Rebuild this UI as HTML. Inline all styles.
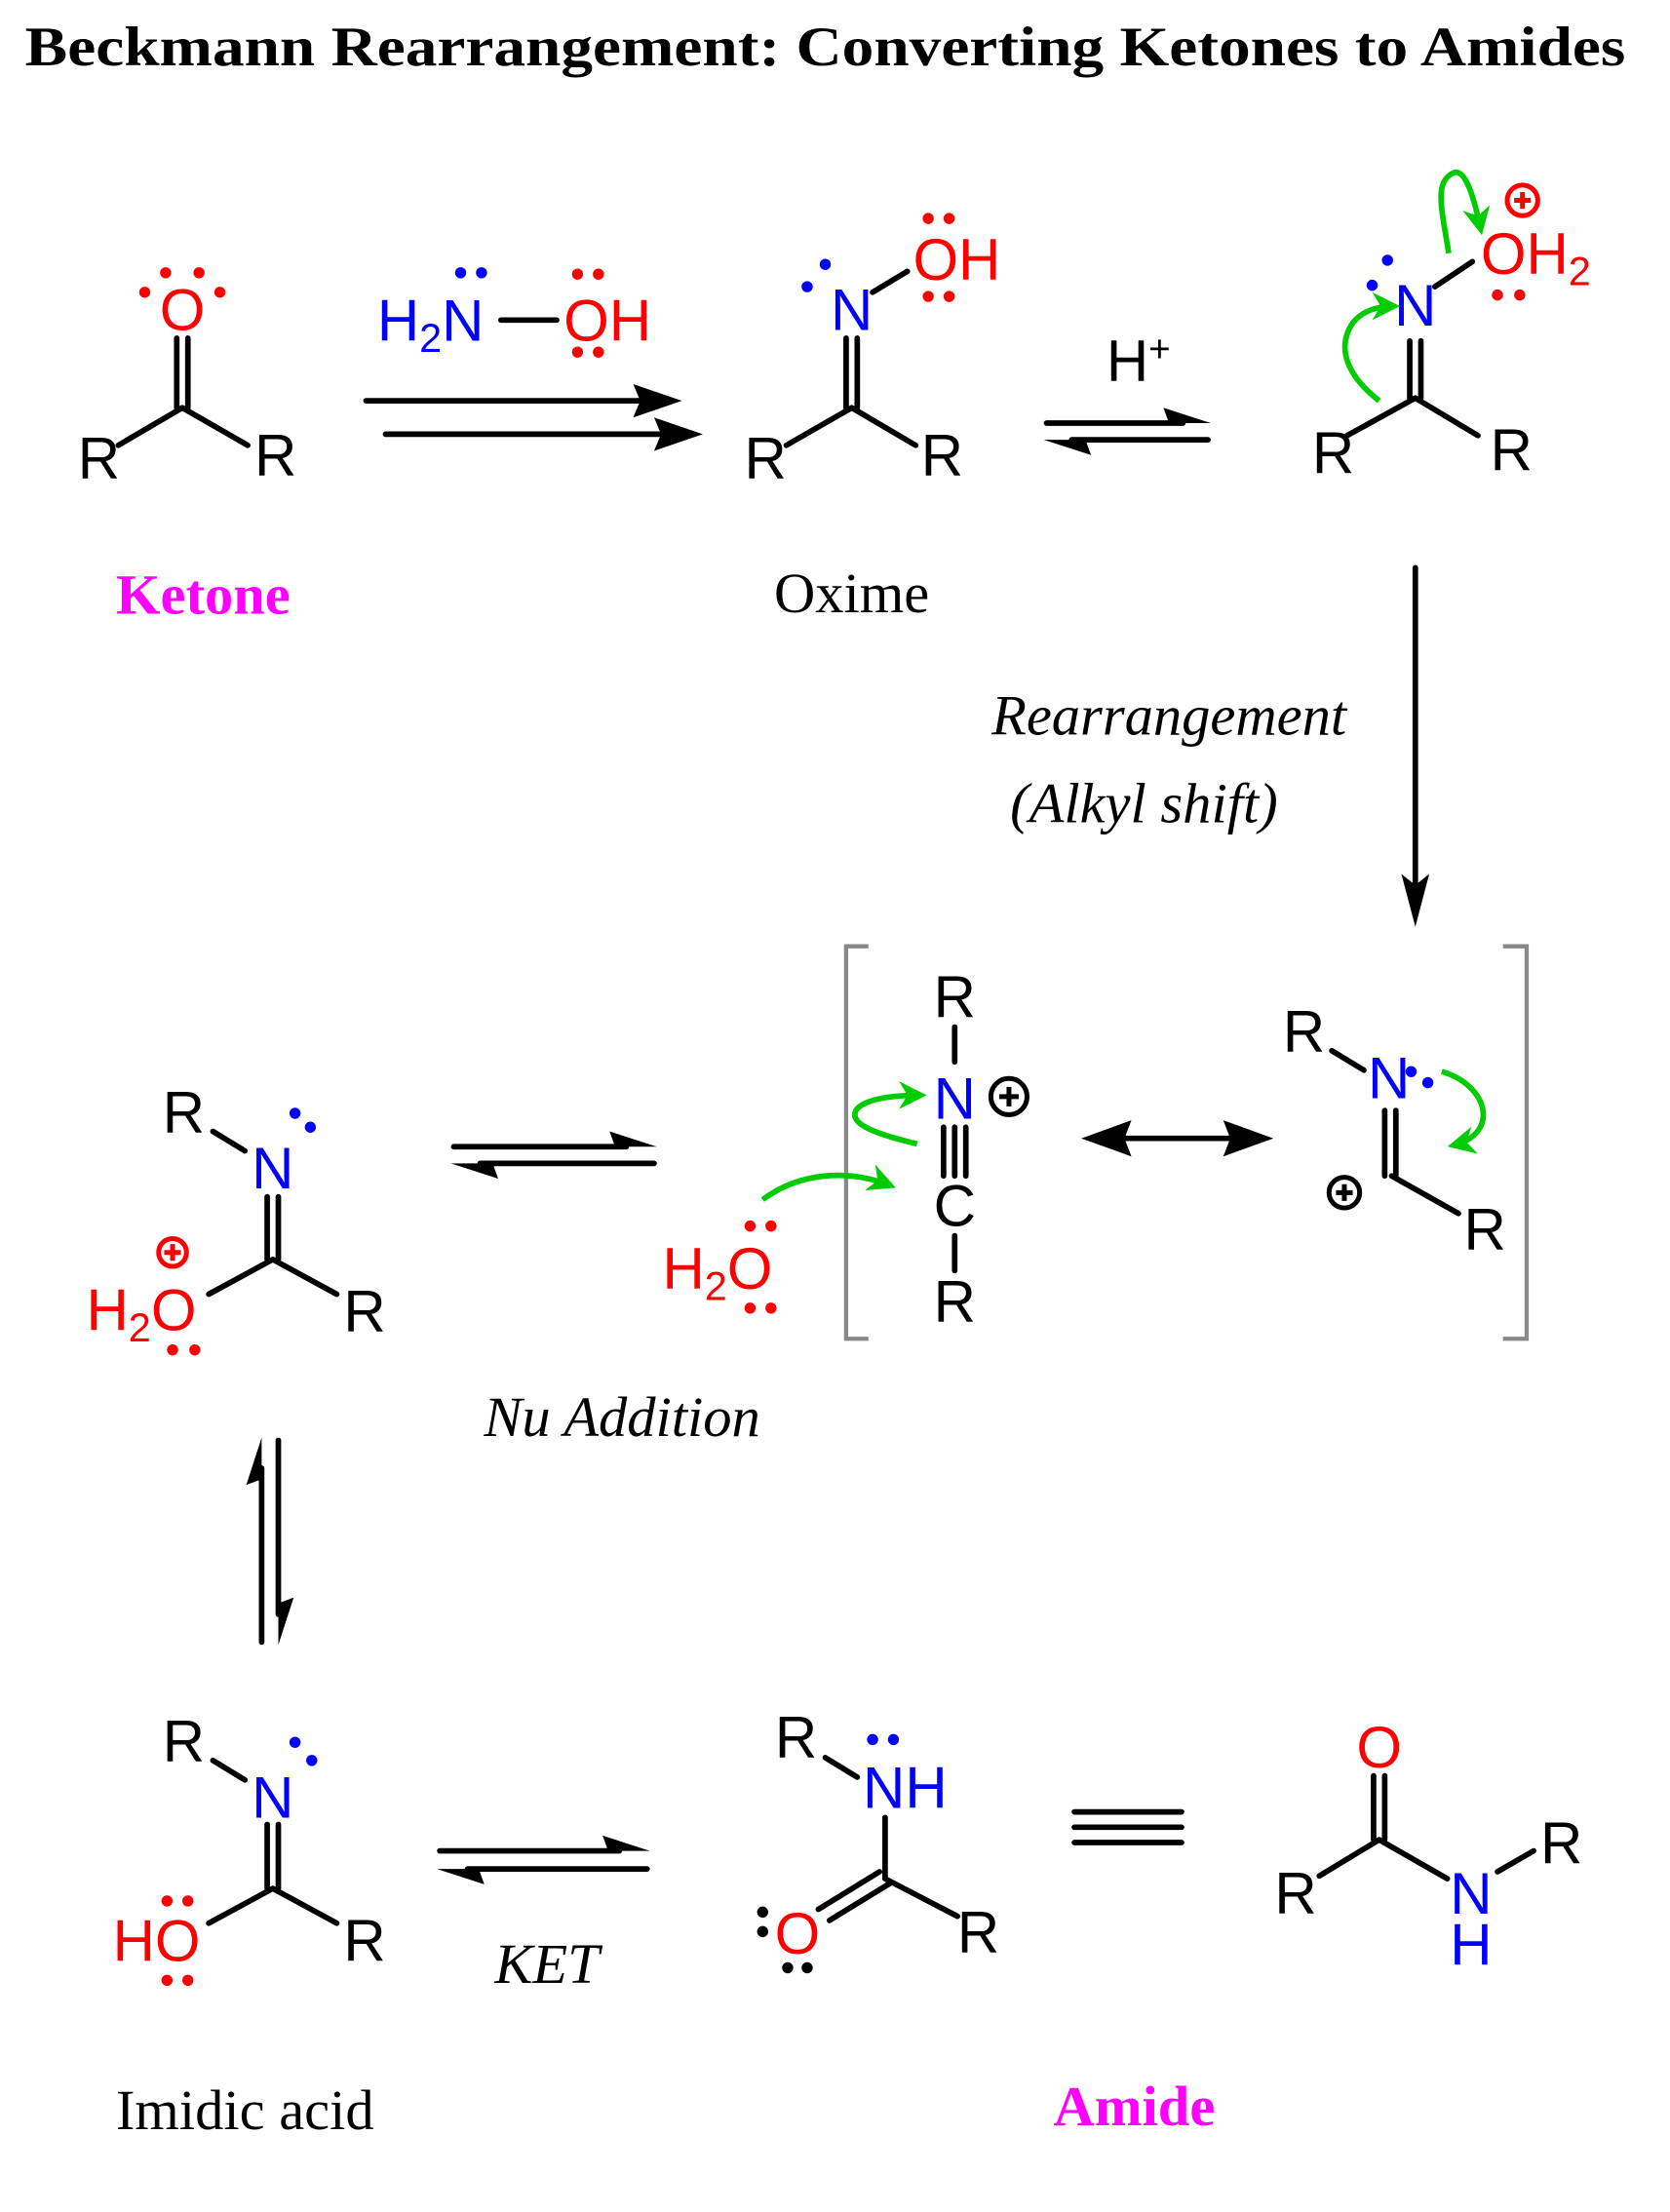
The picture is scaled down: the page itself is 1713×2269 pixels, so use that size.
<!DOCTYPE html>
<html><head><meta charset="utf-8"><style>
html,body{margin:0;padding:0;background:#fff}
svg{display:block}
.a{font-family:"Liberation Sans",sans-serif;font-size:42px}
.s{font-family:"Liberation Serif",serif;font-size:41px}
.b{stroke:#000;stroke-width:4;fill:none;stroke-linecap:round}
.g{stroke:#00cc00;stroke-width:4;fill:none}
</style></head><body>
<svg width="1713" height="2269" viewBox="0 0 1200 1589.5" preserveAspectRatio="none" xmlns="http://www.w3.org/2000/svg">
<defs>
<marker id="ga" viewBox="0 0 10 10" refX="8" refY="5" markerWidth="5" markerHeight="5" orient="auto"><path d="M0,0 L10,5 L0,10 L3,5z" fill="#00cc00"/></marker>
</defs>
<text x="593" y="47" text-anchor="middle" font-family="Liberation Serif,serif" font-weight="bold" font-size="40" textLength="1150" lengthAdjust="spacingAndGlyphs">Beckmann Rearrangement: Converting Ketones to Amides</text>

<!-- Ketone -->
<text x="131" y="237" class="a" fill="#f00" text-anchor="middle">O</text>
<g fill="#f00"><circle cx="104" cy="210" r="4"/><circle cx="119" cy="196" r="4"/><circle cx="143" cy="196" r="4"/><circle cx="158" cy="210" r="4"/></g>
<path class="b" d="M127,243V293M135,243V293M131,293L85,320M131,293L178,320"/>
<text x="71" y="344" class="a" text-anchor="middle">R</text>
<text x="198" y="342" class="a" text-anchor="middle">R</text>
<text x="146" y="441" class="s" font-weight="bold" fill="#f0f" text-anchor="middle">Ketone</text>

<!-- Reagent -->
<text x="271" y="245" class="a" fill="#00f">H<tspan font-size="29" dy="8">2</tspan><tspan dy="-8">N</tspan></text>
<path class="b" d="M360,230H400"/>
<text x="405" y="245" class="a" fill="#f00">OH</text>
<g fill="#00f"><circle cx="331" cy="196" r="4"/><circle cx="346" cy="196" r="4"/></g>
<g fill="#f00"><circle cx="415" cy="197" r="4"/><circle cx="430" cy="197" r="4"/><circle cx="415" cy="253" r="4"/><circle cx="430" cy="253" r="4"/></g>
<path class="b" d="M263,288H460M277,312H475" stroke-linecap="butt"/>
<path d="M490,288L455,276L460,288L455,300z M505,312L470,300L475,312L470,324z"/>

<!-- Oxime -->
<text x="612" y="237" class="a" fill="#00f" text-anchor="middle">N</text>
<g fill="#00f"><circle cx="580" cy="206" r="4"/><circle cx="593" cy="190" r="4"/></g>
<path class="b" d="M627,210L652,195"/>
<text x="656" y="201" class="a" fill="#f00">OH</text>
<g fill="#f00"><circle cx="667" cy="157" r="4"/><circle cx="682" cy="157" r="4"/><circle cx="667" cy="213" r="4"/><circle cx="682" cy="213" r="4"/></g>
<path class="b" d="M608,243V293M616,243V293M612,293L565,320M612,293L658,320"/>
<text x="550" y="344" class="a" text-anchor="middle">R</text>
<text x="677" y="342" class="a" text-anchor="middle">R</text>
<text x="612" y="440" class="s" text-anchor="middle">Oxime</text>

<text x="795" y="274" class="a">H<tspan font-size="27" dy="-14">+</tspan></text>
<path class="b" d="M752,304H850M868,316H770" stroke-linecap="butt"/>
<path d="M870,304L836,293L840,304z M750,316L784,327L780,316z"/>

<!-- Protonated oxime -->
<text x="1017" y="234" class="a" fill="#00f" text-anchor="middle">N</text>
<g fill="#00f"><circle cx="986" cy="205" r="4"/><circle cx="997" cy="187" r="4"/></g>
<path class="b" d="M1031,206L1058,188"/>
<text x="1064" y="197" class="a" fill="#f00">OH<tspan font-size="29" dy="8">2</tspan></text>
<g fill="#f00"><circle cx="1076" cy="212" r="4"/><circle cx="1092" cy="212" r="4"/></g>
<circle cx="1094" cy="144" r="11" fill="none" stroke="#f00" stroke-width="3.5"/>
<path d="M1088,144H1100M1094,138V150" stroke="#f00" stroke-width="3.5"/>
<path class="g" d="M1041,182C1036,150 1030,130 1045,124C1052,122 1058,136 1064,165" marker-end="url(#ga)"/>
<path class="g" d="M991,288C968,270 960,250 972,232C980,222 992,220 1002,220" marker-end="url(#ga)"/>
<path class="b" d="M1013,245V286M1021,245V286M1017,286L968,313M1017,286L1062,313"/>
<text x="958" y="340" class="a" text-anchor="middle">R</text>
<text x="1086" y="338" class="a" text-anchor="middle">R</text>

<!-- rearrangement arrow -->
<path class="b" d="M1017,408V640" stroke-linecap="butt"/>
<path d="M1017,666L1007,628L1017,636L1027,628z"/>
<text x="840" y="528" class="s" font-style="italic" text-anchor="middle">Rearrangement</text>
<text x="822" y="591" class="s" font-style="italic" text-anchor="middle">(Alkyl shift)</text>

<!-- brackets -->
<path d="M624,680H608V962H624M1080,680H1097V962H1080" fill="none" stroke="#888" stroke-width="3"/>

<!-- Nitrilium -->
<text x="686" y="731" class="a" text-anchor="middle">R</text>
<path class="b" d="M686,738V763"/>
<text x="686" y="804" class="a" fill="#00f" text-anchor="middle">N</text>
<circle cx="725" cy="788" r="13" fill="none" stroke="#000" stroke-width="3.5"/>
<path d="M718,788H732M725,781V795" stroke="#000" stroke-width="3.5"/>
<path class="b" d="M678,810V845M686,810V845M694,810V845"/>
<text x="686" y="881" class="a" text-anchor="middle">C</text>
<path class="b" d="M686,888V913"/>
<text x="686" y="950" class="a" text-anchor="middle">R</text>
<path class="g" d="M659,822C630,815 610,808 615,798C620,790 640,787 662,787" marker-end="url(#ga)"/>
<path class="g" d="M548,862C575,842 610,840 640,852" marker-end="url(#ga)" />
<text x="476" y="926" class="a" fill="#f00">H<tspan font-size="29" dy="8">2</tspan><tspan dy="-8">O</tspan></text>
<g fill="#f00"><circle cx="539" cy="881" r="4"/><circle cx="554" cy="881" r="4"/><circle cx="539" cy="940" r="4"/><circle cx="554" cy="940" r="4"/></g>

<!-- resonance arrow -->
<path class="b" d="M800,818H895"/>
<path d="M777,818L813,805L808,818L813,831z M915,818L879,805L884,818L879,831z"/>

<!-- right bracket structure -->
<text x="937" y="756" class="a" text-anchor="middle">R</text>
<path class="b" d="M957,755L980,769"/>
<text x="998" y="789" class="a" fill="#00f" text-anchor="middle">N</text>
<g fill="#00f"><circle cx="1014" cy="770" r="4"/><circle cx="1026" cy="778" r="4"/></g>
<path class="g" d="M1036,770C1070,780 1078,815 1044,823" marker-end="url(#ga)"/>
<path class="b" d="M995,798V845M1003,798V845M1000,845L1048,872"/>
<text x="1067" y="898" class="a" text-anchor="middle">R</text>
<circle cx="966" cy="857" r="11" fill="none" stroke="#000" stroke-width="3.5"/>
<path d="M960,857H972M966,851V863" stroke="#000" stroke-width="3.5"/>

<!-- Protonated imidic acid -->
<text x="132" y="814" class="a" text-anchor="middle">R</text>
<path class="b" d="M153,813L176,827"/>
<text x="196" y="854" class="a" fill="#00f" text-anchor="middle">N</text>
<g fill="#00f"><circle cx="212" cy="800" r="4"/><circle cx="223" cy="810" r="4"/></g>
<path class="b" d="M192,860V905M200,860V905M196,905L150,930M196,905L242,930"/>
<text x="262" y="957" class="a" text-anchor="middle">R</text>
<text x="62" y="956" class="a" fill="#f00">H<tspan font-size="29" dy="8">2</tspan><tspan dy="-8">O</tspan></text>
<g fill="#f00"><circle cx="124" cy="970" r="4"/><circle cx="140" cy="970" r="4"/></g>
<circle cx="124" cy="900" r="10" fill="none" stroke="#f00" stroke-width="3.5"/>
<path d="M118,900H130M124,894V906" stroke="#f00" stroke-width="3.5"/>

<path class="b" d="M326,824H450M470,836H345" stroke-linecap="butt"/>
<path d="M472,824L438,813L442,824z M324,836L358,847L354,836z"/>
<text x="447" y="1032" class="s" font-style="italic" text-anchor="middle">Nu Addition</text>

<path class="b" d="M188,1055V1180M200,1035V1160" stroke-linecap="butt"/>
<path d="M188,1033L177,1067L188,1063z M200,1182L211,1148L200,1152z"/>

<!-- Imidic acid -->
<text x="132" y="1266" class="a" text-anchor="middle">R</text>
<path class="b" d="M153,1265L176,1279"/>
<text x="196" y="1306" class="a" fill="#00f" text-anchor="middle">N</text>
<g fill="#00f"><circle cx="212" cy="1252" r="4"/><circle cx="224" cy="1265" r="4"/></g>
<path class="b" d="M192,1311V1357M200,1311V1357M196,1357L150,1382M196,1357L242,1382"/>
<text x="262" y="1409" class="a" text-anchor="middle">R</text>
<text x="81" y="1409" class="a" fill="#f00">HO</text>
<g fill="#f00"><circle cx="120" cy="1366" r="4"/><circle cx="135" cy="1366" r="4"/><circle cx="120" cy="1423" r="4"/><circle cx="135" cy="1423" r="4"/></g>
<text x="176" y="1530" class="s" text-anchor="middle">Imidic acid</text>

<path class="b" d="M316,1330H445M465,1343H336" stroke-linecap="butt"/>
<path d="M467,1330L433,1319L437,1330z M314,1343L348,1354L344,1343z"/>
<text x="393" y="1425" class="s" font-style="italic" text-anchor="middle">KET</text>

<!-- Amide 1 -->
<text x="572" y="1263" class="a" text-anchor="middle">R</text>
<path class="b" d="M593,1263L616,1277"/>
<text x="620" y="1299" class="a" fill="#00f">NH</text>
<g fill="#00f"><circle cx="627" cy="1250" r="4"/><circle cx="642" cy="1250" r="4"/></g>
<path class="b" d="M636,1306V1350M636,1350L688,1377M632,1345L588,1372M640,1353L596,1380"/>
<text x="703" y="1403" class="a" text-anchor="middle">R</text>
<text x="573" y="1404" class="a" fill="#f00" text-anchor="middle">O</text>
<g fill="#000"><circle cx="548" cy="1374" r="4"/><circle cx="548" cy="1388" r="4"/><circle cx="566" cy="1414" r="4"/><circle cx="580" cy="1414" r="4"/></g>
<text x="815" y="1527" class="s" font-weight="bold" fill="#f0f" text-anchor="middle">Amide</text>

<path class="b" d="M772,1302H849M772,1313H849M772,1324H849" stroke-linecap="butt"/>

<!-- Amide 2 -->
<text x="991" y="1270" class="a" fill="#f00" text-anchor="middle">O</text>
<path class="b" d="M987,1276V1322M995,1276V1322M991,1322L948,1348M991,1322L1040,1350"/>
<text x="931" y="1375" class="a" text-anchor="middle">R</text>
<text x="1057" y="1375" class="a" fill="#00f" text-anchor="middle">N</text>
<text x="1057" y="1412" class="a" fill="#00f" text-anchor="middle">H</text>
<path class="b" d="M1076,1345L1102,1330"/>
<text x="1122" y="1339" class="a" text-anchor="middle">R</text>
</svg>
</body></html>
